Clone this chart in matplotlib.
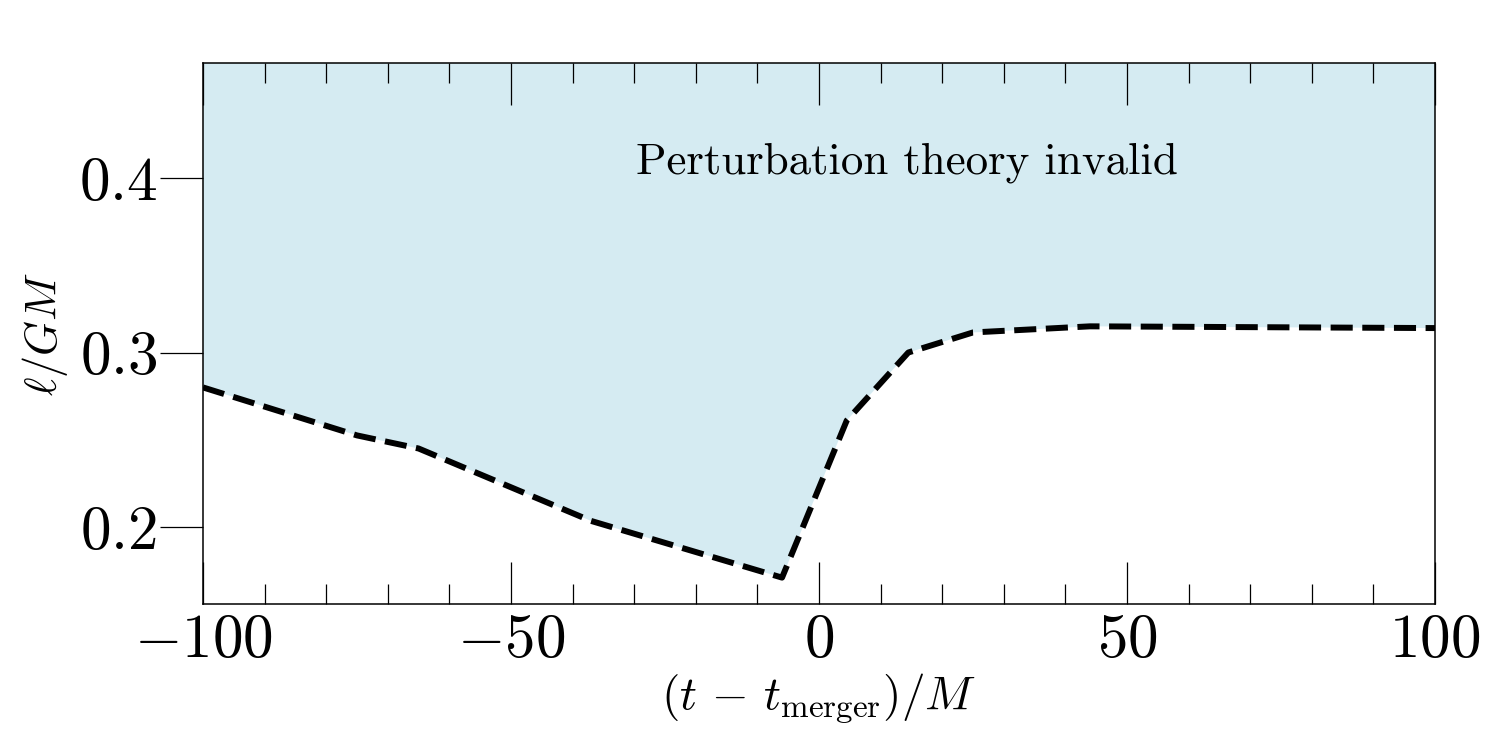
import matplotlib
matplotlib.use('Agg')
import matplotlib.pyplot as plt
from matplotlib.ticker import MultipleLocator

plt.rcParams['font.family'] = 'serif'
plt.rcParams['font.serif'] = ['cmr10']
plt.rcParams['mathtext.fontset'] = 'cm'
plt.rcParams['axes.formatter.use_mathtext'] = True

# boundary of validity of perturbation theory
t_vals = [-100, -75, -65, -37, -6, 4.5, 14.5, 25, 44, 100]
ell_vals = [0.280, 0.2525, 0.245, 0.2035, 0.171, 0.261, 0.300, 0.3115, 0.315, 0.314]

fig = plt.figure(figsize=(15, 7.5), dpi=100)
ax = fig.add_axes([0.1353, 0.1947, 0.8214, 0.7213])

ax.fill_between(t_vals, ell_vals, 1.0, color='lightblue', alpha=0.5, lw=0)
ax.plot(t_vals, ell_vals, 'k--', lw=4.3)

ax.text(14.3, 0.409, 'Perturbation theory invalid', fontsize=32.4,
        ha='center', va='center')

ax.set_xlim(-100, 100)
ax.set_ylim(0.1559, 0.4659)
ax.xaxis.set_major_locator(MultipleLocator(50))
ax.xaxis.set_minor_locator(MultipleLocator(10))
ax.set_yticks([0.2, 0.3, 0.4])

ax.tick_params(axis='x', which='major', direction='in', length=30, width=0.9,
               top=True, labelsize=44, pad=7)
ax.tick_params(axis='x', which='minor', direction='in', length=14.5, width=0.9,
               top=True)
ax.tick_params(axis='y', which='major', direction='out', length=31, width=0.9,
               labelsize=44, pad=2)
for s in ax.spines.values():
    s.set_linewidth(1.1)

ax.set_xlabel(r'$(t \,-\, t_{\rm merger})/M$', fontsize=34, labelpad=2)
ax.set_ylabel(r'$\ell/GM$', fontsize=32, labelpad=6)

fig.savefig('out.png', dpi=100)
